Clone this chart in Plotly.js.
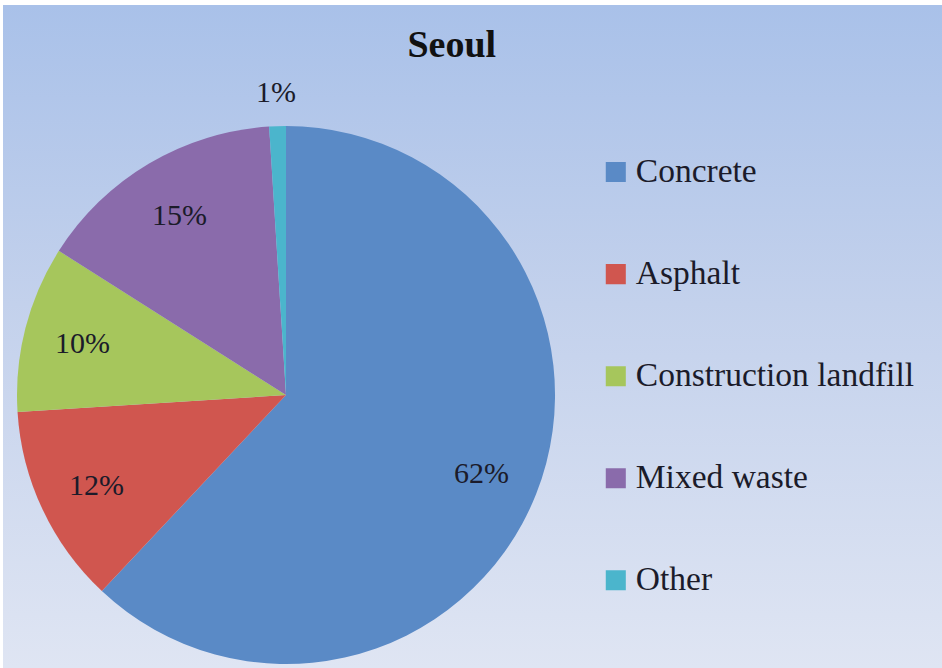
<!DOCTYPE html>
<html>
<head>
<meta charset="utf-8">
<script src="https://cdn.plot.ly/plotly-3.0.1.min.js"></script>
<style>
  html, body { margin: 0; padding: 0; background: #ffffff; }
  #chart {
    position: absolute; left: 3px; top: 5px; width: 939px; height: 663px;
    background: linear-gradient(to bottom, #a9c1e9 0%, #c3d1ec 45%, #dfe5f3 100%);
  }
  #chart .legendpie { transform: translate(20px, 0px) scale(1.67); }
</style>
</head>
<body>
<div id="chart"></div>
<script>
const categories = ["Concrete", "Asphalt", "Construction landfill", "Mixed waste", "Other"];
const shares = [62, 12, 10, 15, 1];
const sliceColors = ["#5a8ac6", "#d0564f", "#a6c65c", "#8a6bab", "#4bb5cc"];
const labelPositions = ["inside", "inside", "inside", "inside", "outside"];

const SERIF = "Liberation Serif";
const W = 939, H = 663;
const pieDomain = { x: [0.0149, 0.5879], y: [0.006, 0.8175] };

// Legend labels: padded lines give the wide vertical spacing between entries
const legendLabels = categories.map(c => "\u00a0<br><span style='font-size:33.5px'>" + c + "</span><br>\u00a0");

// Percentage labels placed along each slice's mid-angle (clockwise from 12 o'clock)
const total = shares.reduce((a, b) => a + b, 0);
const R = Math.min((pieDomain.x[1] - pieDomain.x[0]) * W, (pieDomain.y[1] - pieDomain.y[0]) * H) / 2;
const cxP = (pieDomain.x[0] + pieDomain.x[1]) / 2;
const cyP = (pieDomain.y[0] + pieDomain.y[1]) / 2;
let cum = 0;
const annotations = shares.map((v, i) => {
  const mid = (cum + v / 2) / total * 2 * Math.PI;
  cum += v;
  const rr = (labelPositions[i] === "inside" ? 0.78 : 1.13) * R;
  return {
    xref: "paper", yref: "paper",
    x: cxP + rr * Math.sin(mid) / W,
    y: cyP + rr * Math.cos(mid) / H,
    xanchor: "center", yanchor: "middle",
    text: Math.round(v / total * 100) + "%",
    showarrow: false,
    font: { family: SERIF, size: 30, color: "#1b1b2a" }
  };
});

const data = [{
  type: "pie",
  labels: legendLabels,
  values: shares,
  sort: false,
  direction: "clockwise",
  rotation: 0,
  marker: { colors: sliceColors, line: { width: 0 } },
  textinfo: "none",
  domain: pieDomain,
  hoverinfo: "skip"
}];

const layout = {
  width: W,
  height: H,
  margin: { l: 0, r: 0, t: 0, b: 0, pad: 0 },
  paper_bgcolor: "rgba(0,0,0,0)",
  plot_bgcolor: "rgba(0,0,0,0)",
  title: {
    text: "<b>Seoul</b>",
    font: { family: SERIF, size: 38, color: "#111111" },
    x: 0.478, xanchor: "center",
    y: 0.941, yanchor: "middle",
    xref: "paper", yref: "paper"
  },
  annotations: annotations,
  showlegend: true,
  legend: {
    x: 0.6313, xanchor: "left",
    y: 0.8325, yanchor: "top",
    font: { family: SERIF, size: 25.4, color: "#1b1b2a" },
    bgcolor: "rgba(0,0,0,0)",
    borderwidth: 0,
    valign: "middle",
    traceorder: "normal"
  }
};

Plotly.newPlot("chart", data, layout, { displayModeBar: false, staticPlot: true });
</script>
</body>
</html>
